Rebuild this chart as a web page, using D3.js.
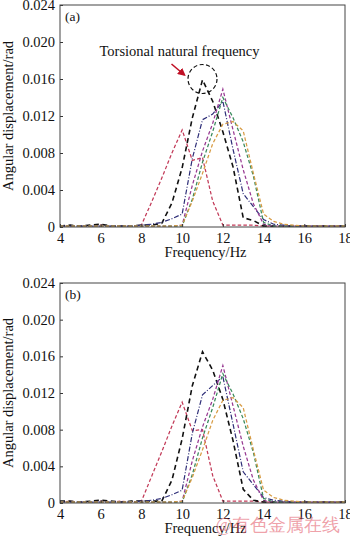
<!DOCTYPE html>
<html>
<head>
<meta charset="utf-8">
<script src="https://cdn.jsdelivr.net/npm/d3@7"></script>
<style>
  body { margin: 0; background: #fff; }
  text { font-family: "Liberation Serif", "Times New Roman", serif; }
</style>
</head>
<body>
<svg id="chart" width="350" height="539"></svg>
<script>
// Frequency grid (Hz) shared by every response curve
const freq = [4, 4.5, 5, 5.5, 6, 6.5, 7, 7.5, 8, 8.5, 9, 9.5, 10, 10.5, 11, 11.5, 12, 12.5, 13, 13.5, 14, 14.5, 15, 15.5, 16, 16.5, 17, 17.5, 18];

const xTicks = [4, 6, 8, 10, 12, 14, 16, 18];
const yTicks = [0, 0.004, 0.008, 0.012, 0.016, 0.020, 0.024];
const yTickLabels = ["0", "0.004", "0.008", "0.012", "0.016", "0.020", "0.024"];

// Panel (a) angular displacement (rad)
const a1 = [0.0001, 0.0001, 0.0001, 0.0001, 0.0002, 0.0001, 0.0001, 0.0001, 0.0002, 0.0027, 0.0053, 0.0080, 0.0105, 0.0072, 0.0075, 0.0028, 0.0002, 0.0002, 0.0002, 0.0002, 0.0001, 0.0001, 0.0001, 0.0001, 0.0001, 0.0001, 0.0001, 0.0001, 0.0001];
const a2 = [0.0001, 0.0002, 0.0001, 0.0002, 0.0003, 0.0001, 0.0001, 0.0001, 0.0002, 0.0002, 0.0004, 0.0026, 0.0064, 0.0118, 0.0159, 0.0136, 0.0103, 0.0065, 0.0010, 0.0007, 0.0001, 0.0001, 0.0001, 0.0001, 0.0001, 0.0001, 0.0001, 0.0001, 0.0001];
const a3 = [0.0001, 0.0001, 0.0001, 0.0001, 0.0001, 0.0001, 0.0001, 0.0001, 0.0002, 0.0003, 0.0005, 0.0009, 0.0014, 0.0074, 0.0116, 0.0122, 0.0136, 0.0084, 0.0036, 0.0022, 0.0008, 0.0003, 0.0002, 0.0001, 0.0001, 0.0001, 0.0001, 0.0001, 0.0001];
const a4 = [0.0001, 0.0001, 0.0001, 0.0001, 0.0001, 0.0001, 0.0001, 0.0001, 0.0001, 0.0001, 0.0001, 0.0001, 0.0002, 0.0045, 0.0082, 0.0112, 0.0149, 0.0105, 0.0062, 0.0025, 0.0003, 0.0001, 0.0001, 0.0001, 0.0001, 0.0001, 0.0001, 0.0001, 0.0001];
const a5 = [0.0001, 0.0001, 0.0001, 0.0001, 0.0001, 0.0001, 0.0001, 0.0001, 0.0001, 0.0001, 0.0001, 0.0001, 0.0001, 0.0030, 0.0070, 0.0103, 0.0140, 0.0118, 0.0092, 0.0055, 0.0005, 0.0001, 0.0001, 0.0001, 0.0001, 0.0001, 0.0001, 0.0001, 0.0001];
const a6 = [0.0001, 0.0001, 0.0001, 0.0001, 0.0001, 0.0001, 0.0001, 0.0001, 0.0001, 0.0001, 0.0001, 0.0001, 0.0002, 0.0028, 0.0058, 0.0090, 0.0111, 0.0114, 0.0104, 0.0058, 0.0014, 0.0006, 0.0003, 0.0002, 0.0001, 0.0001, 0.0001, 0.0001, 0.0001];

// Panel (b) angular displacement (rad)
const b1 = [0.0001, 0.0002, 0.0001, 0.0001, 0.0002, 0.0001, 0.0002, 0.0001, 0.0002, 0.0029, 0.0056, 0.0084, 0.0110, 0.0079, 0.0080, 0.0030, 0.0002, 0.0002, 0.0002, 0.0002, 0.0001, 0.0001, 0.0001, 0.0001, 0.0001, 0.0001, 0.0001, 0.0001, 0.0001];
const b2 = [0.0002, 0.0002, 0.0001, 0.0002, 0.0003, 0.0002, 0.0001, 0.0002, 0.0002, 0.0002, 0.0002, 0.0025, 0.0070, 0.0128, 0.0165, 0.0145, 0.0113, 0.0068, 0.0015, 0.0003, 0.0001, 0.0001, 0.0001, 0.0001, 0.0001, 0.0001, 0.0001, 0.0001, 0.0001];
const b3 = [0.0001, 0.0001, 0.0001, 0.0001, 0.0001, 0.0001, 0.0001, 0.0001, 0.0002, 0.0003, 0.0005, 0.0009, 0.0014, 0.0076, 0.0118, 0.0128, 0.0138, 0.0086, 0.0034, 0.0020, 0.0006, 0.0003, 0.0002, 0.0001, 0.0001, 0.0001, 0.0001, 0.0001, 0.0001];
const b4 = [0.0001, 0.0001, 0.0001, 0.0001, 0.0001, 0.0001, 0.0001, 0.0001, 0.0001, 0.0001, 0.0001, 0.0001, 0.0002, 0.0046, 0.0083, 0.0113, 0.0150, 0.0106, 0.0062, 0.0025, 0.0003, 0.0001, 0.0001, 0.0001, 0.0001, 0.0001, 0.0001, 0.0001, 0.0001];
const b5 = [0.0001, 0.0001, 0.0001, 0.0001, 0.0001, 0.0001, 0.0001, 0.0001, 0.0001, 0.0001, 0.0001, 0.0001, 0.0001, 0.0031, 0.0071, 0.0104, 0.0141, 0.0119, 0.0092, 0.0055, 0.0005, 0.0001, 0.0001, 0.0001, 0.0001, 0.0001, 0.0001, 0.0001, 0.0001];
const b6 = [0.0001, 0.0001, 0.0001, 0.0001, 0.0001, 0.0001, 0.0001, 0.0001, 0.0001, 0.0001, 0.0001, 0.0001, 0.0002, 0.0028, 0.0058, 0.0090, 0.0112, 0.0115, 0.0104, 0.0058, 0.0014, 0.0006, 0.0003, 0.0002, 0.0001, 0.0001, 0.0001, 0.0001, 0.0001];

// Line styles, one per curve (same order in both panels)
const curveStyles = [
  { color: "#c23a58", width: 1.25, dash: "3.5,2.2" },
  { color: "#111111", width: 1.6, dash: "5,3.5" },
  { color: "#2e2e78", width: 1.2, dash: "5,1.8,1,1.8" },
  { color: "#983a92", width: 1.25, dash: "3.5,2.2" },
  { color: "#3a8a5c", width: 1.25, dash: "3.5,2.2" },
  { color: "#d89c45", width: 1.25, dash: "3.5,2.2" }
];

const panels = [
  { label: "(a)", top: 5, bottom: 227, curves: [a1, a2, a3, a4, a5, a6], note: true },
  { label: "(b)", top: 283, bottom: 503, curves: [b1, b2, b3, b4, b5, b6], note: false }
];

const left = 60, right = 345;
const fontSize = 14.5;
const svg = d3.select("#chart");

svg.append("defs").append("marker")
  .attr("id", "arrowHead")
  .attr("viewBox", "0 0 10 10")
  .attr("refX", 8).attr("refY", 5)
  .attr("markerWidth", 5).attr("markerHeight", 5)
  .attr("orient", "auto")
  .append("path").attr("d", "M0,0 L10,5 L0,10 z").attr("fill", "#c01025");

panels.forEach(p => {
  const x = d3.scaleLinear().domain([4, 18]).range([left, right]);
  const y = d3.scaleLinear().domain([0, 0.024]).range([p.bottom, p.top]);
  const g = svg.append("g");

  // clip the curves to the plotting box
  const clipId = "clip" + p.label.replace(/\W/g, "");
  svg.select("defs").append("clipPath").attr("id", clipId)
    .append("rect").attr("x", left).attr("y", p.top)
    .attr("width", right - left).attr("height", p.bottom - p.top);

  const line = d3.line().x((d, i) => x(freq[i])).y(d => y(d));
  const curveG = g.append("g").attr("clip-path", `url(#${clipId})`);
  p.curves.forEach((vals, k) => {
    const s = curveStyles[k];
    curveG.append("path")
      .datum(vals)
      .attr("d", line)
      .attr("fill", "none")
      .attr("stroke", s.color)
      .attr("stroke-width", s.width)
      .attr("stroke-dasharray", s.dash);
  });

  // axes with inward ticks
  const xAxis = d3.axisBottom(x).tickValues(xTicks).tickSize(-3).tickPadding(6).tickFormat(d3.format("d"));
  const yAxis = d3.axisLeft(y).tickValues(yTicks).tickSize(-3).tickPadding(5)
    .tickFormat((d, i) => yTickLabels[i]);

  const gx = g.append("g").attr("transform", `translate(0,${p.bottom})`).call(xAxis);
  const gy = g.append("g").attr("transform", `translate(${left},0)`).call(yAxis);
  [gx, gy].forEach(ax => {
    ax.select(".domain").remove();
    ax.selectAll(".tick line").attr("stroke", "#333");
    ax.selectAll(".tick text").attr("font-size", fontSize).attr("fill", "#111")
      .attr("font-family", "Liberation Serif, serif");
  });
  gx.selectAll(".tick text").attr("dy", "0.72em");

  // plotting frame
  g.append("rect")
    .attr("x", left).attr("y", p.top)
    .attr("width", right - left).attr("height", p.bottom - p.top)
    .attr("fill", "none").attr("stroke", "#444").attr("stroke-width", 1);

  // axis titles
  g.append("text")
    .attr("x", (left + right) / 2 + 3).attr("y", p.bottom + 30)
    .attr("text-anchor", "middle").attr("font-size", fontSize).attr("fill", "#111")
    .text("Frequency/Hz");
  g.append("text")
    .attr("transform", `translate(13,${(p.top + p.bottom) / 2}) rotate(-90)`)
    .attr("text-anchor", "middle").attr("font-size", fontSize).attr("fill", "#111")
    .text("Angular displacement/rad");

  // panel label
  g.append("text")
    .attr("x", left + 5).attr("y", p.top + 16)
    .attr("font-size", fontSize - 1).attr("fill", "#111")
    .text(p.label);

  if (p.note) {
    // circle around the torsional resonance peak of the black curve
    const cx = x(11), cy = y(0.016);
    g.append("circle")
      .attr("cx", cx).attr("cy", cy).attr("r", 14.5)
      .attr("fill", "none").attr("stroke", "#111")
      .attr("stroke-width", 1.2).attr("stroke-dasharray", "4,2.5");
    g.append("line")
      .attr("x1", cx - 31).attr("y1", cy - 15)
      .attr("x2", cx - 18).attr("y2", cy - 4)
      .attr("stroke", "#c01025").attr("stroke-width", 1.6)
      .attr("marker-end", "url(#arrowHead)");
    g.append("text")
      .attr("x", cx - 23).attr("y", cy - 23)
      .attr("text-anchor", "middle").attr("font-size", fontSize).attr("fill", "#111")
      .text("Torsional natural frequency");
  }
});

// publisher watermark
svg.append("text")
  .attr("x", 340).attr("y", 531)
  .attr("text-anchor", "end")
  .attr("font-family", "Noto Sans CJK SC, sans-serif")
  .attr("font-size", 18)
  .attr("fill", "rgba(225,80,95,0.55)")
  .text("@有色金属在线");
</script>
</body>
</html>
